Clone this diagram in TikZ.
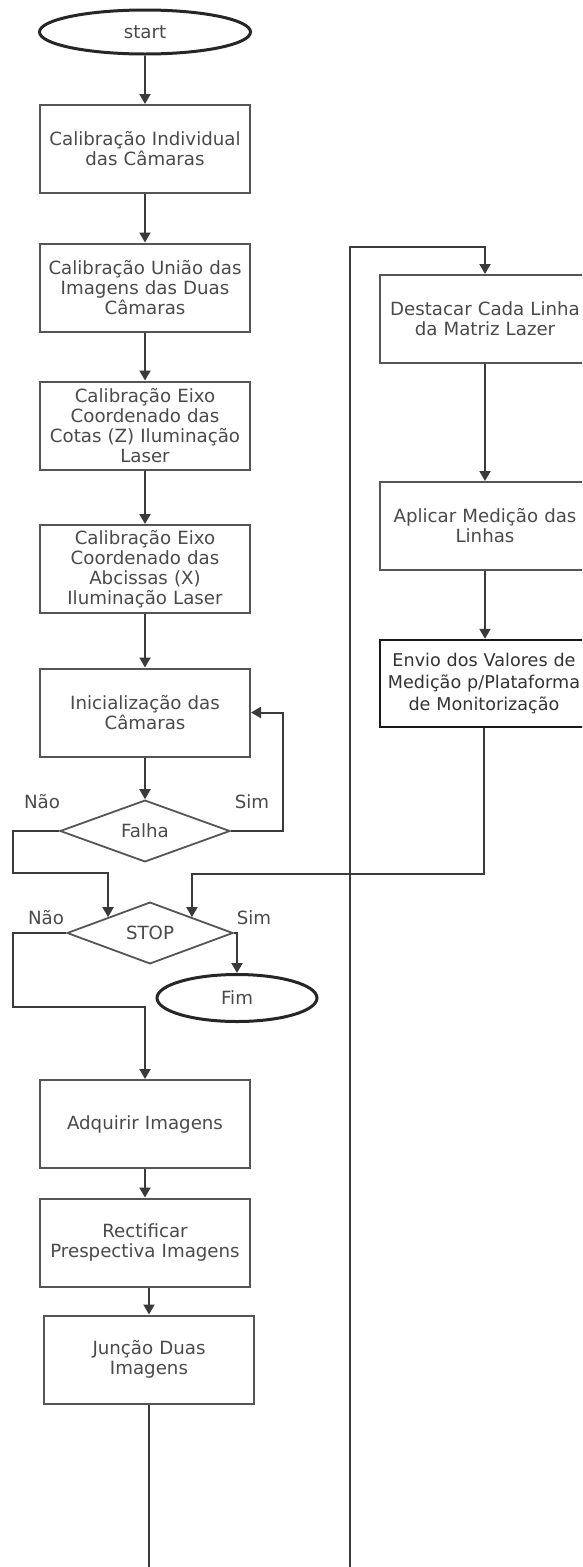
\documentclass[tikz,border=0pt]{standalone}
\usepackage{fontspec}
\setmainfont{DejaVu Sans}
\usetikzlibrary{shapes.geometric,arrows.meta}
\definecolor{txt}{HTML}{4A4A4A}
\definecolor{edge}{HTML}{555555}
\definecolor{wire}{HTML}{3A3A3A}
\begin{document}
\begin{tikzpicture}[x=1pt,y=-1pt,
  every node/.style={font=\fontsize{18.2}{20}\selectfont, text=txt},
  procbox/.style={draw=edge, line width=2pt, rectangle, minimum width=210pt,
    minimum height=88pt, inner sep=1pt, align=center, text width=208pt},
  terminal/.style={draw=black!85, line width=3pt, ellipse, inner sep=0pt},
  decision/.style={draw=edge, line width=1.8pt, diamond, inner sep=0pt},
  lbl/.style={inner sep=0pt},
  flow/.style={draw=wire, line width=2pt, -{Triangle[length=10pt,width=11pt]}}]
\useasboundingbox (0,0) rectangle (582,1567);
\clip (0,0) rectangle (582,1567);
\fill[white] (0,0) rectangle (582,1567);

% main column
\node[terminal, minimum width=211pt, minimum height=44pt] (start) at (145,32) {start};
\node[procbox] (cal1) at (145,149) {Calibração Individual\\das Câmaras};
\node[procbox] (cal2) at (145,287.5) {Calibração União das\\Imagens das Duas\\Câmaras};
\node[procbox] (cal3) at (145,425.5) {Calibração Eixo\\Coordenado das\\Cotas (Z) Iluminação\\Laser};
\node[procbox] (cal4) at (145,569) {Calibração Eixo\\Coordenado das\\Abcissas (X)\\Iluminação Laser};
\node[procbox] (init) at (145,712.5) {Inicialização das\\Câmaras};
\node[decision, minimum width=170pt, minimum height=58pt] (falha) at (145,831) {Falha};
\node[decision, minimum width=166pt, minimum height=57pt] (stop) at (150,933) {STOP};
\node[terminal, minimum width=160pt, minimum height=47pt] (fim) at (237,998) {Fim};
\node[procbox] (adq) at (145,1124) {Adquirir Imagens};
\node[procbox] (rect) at (145,1242.5) {Rectificar\\Prespectiva Imagens};
\node[procbox] (junc) at (149,1359.5) {Junção Duas\\Imagens};

% right column (boxes run past the right edge)
\node[procbox] (dest) at (485,319) {\baselineskip=16pt Destacar Cada Linha\\da Matriz Lazer};
\node[procbox] (apl) at (485,526) {Aplicar Medição das\\Linhas};
\node[procbox, draw=black!90, line width=2.4pt, minimum width=208pt, minimum height=87pt,
  text=black!80, text width=206pt, font=\fontsize{17.6}{22}\selectfont] (envio) at (484,683.5)
  {Envio dos Valores de\\Medição p/Plataforma\\de Monitorização};

% branch labels
\node[lbl] (nao1) at (42,802) {Não};
\node[lbl] (sim1) at (252,802) {Sim};
\node[lbl] (nao2) at (46,918) {Não};
\node[lbl] (sim2) at (254,918) {Sim};

% connectors
\draw[flow] (start) -- (cal1);
\draw[flow] (cal1) -- (cal2);
\draw[flow] (cal2) -- (cal3);
\draw[flow] (cal3) -- (cal4);
\draw[flow] (cal4) -- (init);
\draw[flow] (init) -- (falha);
\draw[flow] (falha.east) -- (283,831) |- (init.east);
\draw[flow] (falha.west) -- (13,831) -- (13,873) -| (stop.north west);
\draw[flow] (envio.south) -- (envio.south |- 0,874) -| (stop.north east);
\draw[flow] (stop.east) -| (fim.north);
\draw[flow] (stop.west) -- (13,933) -- (13,1007) -| (adq.north);
\draw[flow] (adq) -- (rect);
\draw[flow] (rect.south -| junc.north) -- (junc.north);
\draw[flow] (junc.south) -- (149,1600) -- (350,1600) -- (350,247) -| (dest.north);
\draw[flow] (dest) -- (apl);
\draw[flow] (apl.south) -- (apl.south |- envio.north);
\end{tikzpicture}
\end{document}
